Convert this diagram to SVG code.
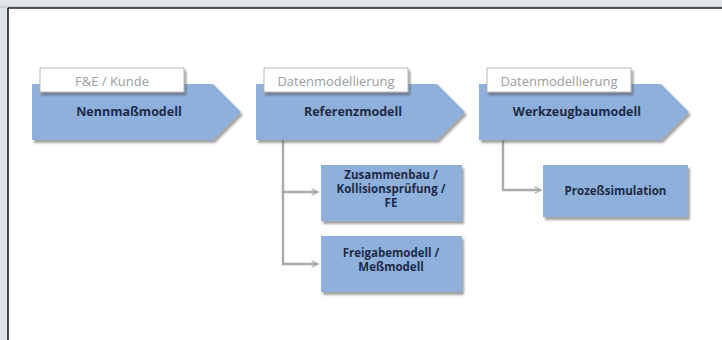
<svg xmlns="http://www.w3.org/2000/svg" width="722" height="340" viewBox="0 0 722 340">
<defs>
<filter id="sh" x="-10%" y="-20%" width="130%" height="150%">
<feDropShadow dx="2" dy="3" stdDeviation="1.2" flood-color="#555" flood-opacity="0.55"/>
</filter>
<marker id="chev" viewBox="0 0 10 10" refX="9" refY="5" markerWidth="8" markerHeight="8" markerUnits="userSpaceOnUse" orient="auto">
<path d="M1,1 L9,5 L1,9" fill="none" stroke="#aaaaaa" stroke-width="1.6"/>
</marker>
<style>
.arrow{fill:#8fb0db;filter:url(#sh)}
.box{fill:#8fb0db;filter:url(#sh)}
.tag{fill:#ffffff;stroke:#b8b8b8;stroke-width:1;filter:url(#sh)}
.tagt{font-family:"Open Sans","Liberation Sans",sans-serif;font-size:13px;fill:#9c9c9c;text-anchor:middle}
.main{font-family:"Open Sans","Liberation Sans",sans-serif;font-weight:bold;font-size:12.5px;fill:#1c2b48;text-anchor:middle}
.sub{font-family:"Open Sans","Liberation Sans",sans-serif;font-weight:bold;font-size:11.5px;fill:#1c2b48;text-anchor:middle}
.con{fill:none;stroke:#aaaaaa;stroke-width:2.4}
</style>
</defs>
<rect x="0" y="0" width="722" height="340" fill="#dfe4e9"/>
<rect x="8" y="8" width="714" height="332" fill="#ffffff"/>
<line x1="0" y1="7" x2="722" y2="7" stroke="#b5babf" stroke-width="1"/>
<line x1="8" y1="8" x2="722" y2="8" stroke="#1e1e1e" stroke-width="1.6"/>
<line x1="8" y1="8" x2="8" y2="340" stroke="#1e1e1e" stroke-width="1.6"/>

<g id="connectors">
<path class="con" d="M283,140 V192 H318" marker-end="url(#chev)"/>
<path class="con" d="M283,190 V264 H318" marker-end="url(#chev)"/>
<path class="con" d="M503,140 V190 H541" marker-end="url(#chev)"/>
</g>

<g id="nennmassmodell">
<polygon class="arrow" points="32,84 213,84 241,112 213,140 32,140"/>
<rect class="tag" x="40" y="68" width="144" height="24"/>
<text class="tagt" x="112" y="85.5">F&amp;E / Kunde</text>
<text class="main" x="129" y="116">Nennmaßmodell</text>
</g>

<g id="referenzmodell">
<polygon class="arrow" points="256,84 437,84 465,112 437,140 256,140"/>
<rect class="tag" x="264" y="68" width="144" height="24"/>
<text class="tagt" x="336" y="85.5">Datenmodellierung</text>
<text class="main" x="353" y="116">Referenzmodell</text>
</g>

<g id="werkzeugbaumodell">
<polygon class="arrow" points="479,84 661,84 689,112 661,140 479,140"/>
<rect class="tag" x="487" y="68" width="144" height="24"/>
<text class="tagt" x="559" y="85.5">Datenmodellierung</text>
<text class="main" x="577" y="116">Werkzeugbaumodell</text>
</g>

<g id="zusammenbau">
<rect class="box" x="321" y="165" width="141" height="56"/>
<text class="sub" x="391" y="179">Zusammenbau /</text>
<text class="sub" x="391" y="193">Kollisionsprüfung /</text>
<text class="sub" x="391" y="207">FE</text>
</g>

<g id="freigabemodell">
<rect class="box" x="321" y="236" width="141" height="56"/>
<text class="sub" x="391" y="257">Freigabemodell /</text>
<text class="sub" x="391" y="271">Meßmodell</text>
</g>

<g id="prozesssimulation">
<rect class="box" x="543" y="165" width="145" height="52"/>
<text class="sub" x="615.5" y="195">Prozeßsimulation</text>
</g>
</svg>
